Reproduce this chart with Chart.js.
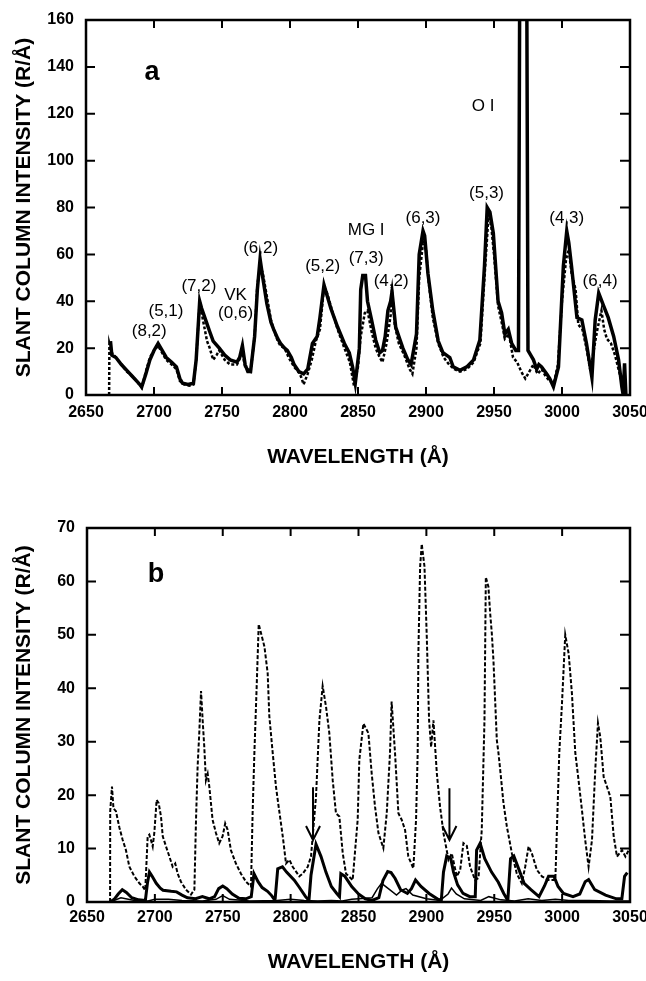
<!DOCTYPE html>
<html>
<head>
<meta charset="utf-8">
<script src="https://cdn.jsdelivr.net/npm/chart.js@4.4.1/dist/chart.umd.min.js"></script>
<style>
  html, body { margin: 0; padding: 0; background: #fff; }
  .panel { position: absolute; left: 0; width: 646px; }
  #wrapA { top: 0; height: 490px; }
  #wrapB { top: 490px; height: 491px; }
  canvas { display: block; }
</style>
</head>
<body>
<div class="panel" id="wrapA"><canvas id="chartA" width="646" height="490"></canvas></div>
<div class="panel" id="wrapB"><canvas id="chartB" width="646" height="491"></canvas></div>
<script>
// ---- panel a : observed (solid) and model (dotted) ----
const obsWave = [
  2668, 2669, 2672, 2676, 2680, 2684, 2688, 2691, 2694, 2697,
  2700, 2703, 2706, 2709, 2713, 2716.5, 2719, 2721, 2725, 2729,
  2731, 2733.6, 2735, 2738.6, 2741, 2743.5, 2748, 2752, 2756, 2761,
  2763, 2765, 2767, 2769, 2771, 2774, 2776, 2778, 2780, 2783,
  2786, 2788, 2791, 2793, 2796, 2798, 2801, 2803, 2806.5, 2810,
  2813, 2816.5, 2820, 2822, 2825, 2827, 2830, 2835, 2840, 2843.6,
  2846, 2848, 2851, 2852, 2853.5, 2855.5, 2857, 2860, 2863, 2866,
  2868, 2870, 2872, 2874, 2875, 2877.7, 2880, 2883, 2886.7, 2889,
  2893, 2895, 2897.8, 2899, 2901.4, 2905, 2909, 2912.5, 2915, 2917.5,
  2920, 2925, 2930, 2935, 2939.6, 2943, 2945, 2947, 2949.5, 2953,
  2955.6, 2958, 2960.5, 2963, 2966, 2968, 2971.5, 2975, 2977, 2979,
  2981.4, 2983, 2985, 2988.8, 2991, 2993.7, 2997.4, 3001, 3003.5, 3005,
  3007, 3011, 3014.6, 3018, 3022, 3024.4, 3027, 3030.6, 3034, 3038,
  3041.6, 3044, 3045, 3046, 3047
]
const obsInt = [
  23, 17, 16, 13, 10.5, 8, 5.5, 3.5, 9, 15,
  19, 22, 19, 16, 14, 12, 7, 5, 4.5, 5,
  15, 40, 37, 31, 27, 23, 20, 17, 15, 14,
  16, 21, 13, 10, 10, 25, 45, 58, 50, 39,
  31, 28, 24, 22, 20, 19, 16, 13, 10, 9,
  11, 22, 25, 33, 47, 43, 37, 29, 22, 18,
  12, 5, 20, 45, 51, 51, 40, 32, 23.5, 18,
  19, 25, 36, 40, 44, 29, 25, 20, 15, 13,
  26, 60, 70, 68, 52, 36, 23, 18, 17, 16,
  12, 10.5, 12, 15, 23.5, 55, 80, 78, 69, 40,
  35, 26, 28, 22, 19, 19, 620, 19, 17, 15,
  11, 13, 12, 9, 7, 3.5, 12, 55, 70, 65,
  55, 33, 32, 22, 7.5, 32, 43.5, 38, 33, 25,
  15, 3.5, 0, 13.5, 0
]
const modelWave = [
  2667, 2667.2, 2669, 2672, 2676, 2680, 2684, 2688, 2691, 2694,
  2697, 2700, 2703, 2706, 2709, 2713, 2716.5, 2719, 2722, 2726,
  2729, 2731, 2733.6, 2735, 2737, 2739, 2741, 2743.5, 2746, 2748,
  2752, 2756, 2761, 2765, 2767, 2771, 2774, 2776, 2778, 2780,
  2783, 2786, 2788, 2791, 2793, 2796, 2799, 2803, 2806, 2808,
  2810, 2813, 2816, 2819, 2822, 2825, 2827, 2830, 2835, 2840,
  2844, 2847, 2850, 2852, 2855, 2857, 2860, 2863, 2866, 2868,
  2871, 2874, 2875, 2877, 2880, 2884, 2888, 2890, 2893, 2895,
  2898, 2900, 2902, 2905, 2909, 2913, 2917, 2921, 2925, 2930,
  2935, 2940, 2943, 2946, 2948, 2950, 2953, 2956, 2958, 2961,
  2964, 2967, 2970, 2973, 2976, 2979, 2982, 2985, 2988, 2991,
  2994, 2997, 3000, 3003, 3005, 3007, 3010, 3012, 3015, 3018,
  3021, 3023, 3026, 3029, 3031, 3033, 3036, 3039, 3042, 3044,
  3046
]
const modelInt = [
  0, 22, 18, 16, 13, 10, 8, 5.5, 3, 10,
  16, 19, 21, 18, 15, 13, 11, 6, 4.5, 4,
  4.5, 15, 40, 35, 29, 23, 20, 15, 17, 19,
  15, 13, 13, 18, 12, 10, 25, 47, 55, 52,
  42, 32, 28, 23, 21, 20, 16, 12, 10, 8,
  4.5, 9, 15, 23, 28, 46, 44, 38, 28, 20,
  14, 4, 12, 25, 35, 36, 27, 20, 16, 14,
  22, 34, 45, 30, 22, 17, 11, 9, 20, 50,
  66, 62, 48, 33, 22, 16, 13, 11, 10, 11,
  14, 22, 50, 77, 72, 60, 38, 30, 24, 26,
  16, 14, 10, 7, 10, 13, 9, 11, 8, 6,
  5, 13, 40, 58, 62, 52, 45, 30, 28, 20,
  10, 18, 28, 36, 28, 24, 22, 17, 10, 5,
  3
]
const notesA = ['(8,2)', '(5,1)', '(7,2)', 'VK', '(0,6)', '(6,2)', '(5,2)', 'MG I', '(7,3)', '(4,2)', '(6,3)', '(5,3)', 'O I', '(4,3)', '(6,4)']
const notesAWave = [2696.5, 2708.8, 2733, 2760, 2760, 2778.4, 2824, 2856, 2856, 2874.4, 2897.8, 2944.5, 2942, 3003.5, 3028]
const notesAInt = [27, 35.5, 46.2, 42.7, 34.9, 62.6, 54.7, 70.4, 58.3, 48.3, 75.4, 86, 123, 75.4, 48.3]

// ---- panel b : total model (dashed) and band components (solid) ----
const totalWave = [
  2667, 2667.1, 2668.4, 2669.5, 2671.3, 2673.8, 2676.3, 2678.7, 2681.2, 2684.9,
  2688.6, 2691, 2692.9, 2694.7, 2695.9, 2697.1, 2698.4, 2699.6, 2701.3, 2702.8,
  2704.5, 2705.8, 2708.2, 2710.7, 2713.1, 2715, 2716.8, 2719.2, 2722.9, 2726.6,
  2729.1, 2730.3, 2731.5, 2732.7, 2734, 2735.2, 2736.4, 2737.6, 2738.9, 2740.1,
  2741.3, 2742.5, 2745, 2747.4, 2749.9, 2751.8, 2753.6, 2756, 2759.7, 2763.4,
  2767.1, 2770.8, 2772, 2773.3, 2775, 2776.5, 2778.2, 2780.7, 2783.1, 2784.3,
  2786.8, 2789.2, 2791.2, 2794.2, 2796.6, 2799.1, 2801.5, 2806.4, 2808.9, 2812.6,
  2815, 2818.7, 2821.2, 2823.6, 2826.1, 2828.5, 2831, 2833.4, 2835.9, 2838.4,
  2840.8, 2845.7, 2849.4, 2850.6, 2853.6, 2857.3, 2859.7, 2862.2, 2864.7, 2868.3,
  2870.8, 2873.2, 2874.4, 2876.9, 2879.4, 2881.8, 2884.3, 2886.7, 2890.4, 2892.4,
  2893.6, 2894.1, 2895.4, 2896.6, 2898.6, 2900.3, 2902, 2903.5, 2905.2, 2907.7,
  2910.1, 2912.6, 2916.3, 2918.7, 2922.4, 2924.9, 2927.3, 2929.8, 2932.2, 2935.9,
  2938.4, 2940.8, 2942.8, 2943.8, 2945.7, 2947, 2948.2, 2949.4, 2951.9, 2953.1,
  2954.4, 2956.8, 2959.3, 2963, 2966.6, 2970.3, 2972.8, 2975.3, 2977.7, 2981.4,
  2985.1, 2990, 2995, 2997.9, 2999.9, 3002.3, 3004.8, 3007.2, 3009.7, 3012.1,
  3014.6, 3017, 3019.5, 3022, 3024.4, 3026.4, 3028.1, 3030.6, 3033, 3035.5,
  3038, 3040.4, 3044.1, 3046.6, 3049, 3050
]
const totalInt = [
  0, 17, 21.6, 17.5, 17, 14, 11.6, 9.7, 6.6, 4.8,
  3.5, 2.9, 2.2, 12.3, 12.6, 11.6, 10.4, 13, 19.1, 18.5,
  16, 12.3, 10.4, 8.5, 6.6, 7.2, 5.3, 3.8, 2.3, 1.4,
  2.3, 15.4, 25.4, 31.6, 39.5, 34, 29, 22.8, 24, 21.6,
  18.5, 15.4, 12.9, 11, 12.3, 14.7, 13.5, 9.7, 7.2, 5.3,
  3.8, 2.9, 16.6, 27.9, 40.4, 52, 50.3, 47.8, 42.8, 34.8,
  27.9, 21.6, 17.8, 12.3, 7.2, 7.9, 6.6, 4.8, 5.3, 6.6,
  8.5, 19.7, 34, 40.4, 36.5, 31.6, 22.8, 16.6, 16, 9.1,
  5.3, 4.1, 15.4, 26.6, 33.4, 31.6, 24.1, 17.8, 12.9, 10.1,
  16.6, 27.9, 37.5, 27.9, 16.6, 15.4, 13.5, 8.5, 6.3, 15.4,
  27.9, 46.5, 62.8, 67, 62.8, 49.6, 34, 29, 34, 24.1,
  17.8, 12.9, 7.9, 9.1, 4.8, 6, 11, 10.5, 6.6, 4.1,
  4.5, 13.5, 34, 60.8, 59, 54, 50.3, 45.3, 30.3, 27.9,
  24.7, 18.5, 14.1, 9.1, 5.3, 3.5, 6.6, 10.4, 9.1, 6,
  4.8, 4.1, 4.1, 27.9, 37.2, 50, 46.5, 39.1, 27.9, 22.8,
  17.2, 11.6, 6.6, 11.6, 24.7, 33.5, 30.9, 23.4, 21.6, 19.7,
  12.3, 8.5, 9.7, 8.5, 9.7, 10
]
const bandWave = [
  2667, 2670, 2673, 2676, 2679, 2683, 2688, 2693, 2694.5, 2696,
  2698, 2701, 2704, 2706, 2712, 2716, 2720, 2724, 2730, 2735,
  2740, 2744, 2747, 2750, 2753, 2757, 2762, 2767, 2771, 2773,
  2776, 2779, 2783, 2786, 2788.5, 2790.5, 2794, 2797, 2802.7, 2806,
  2811, 2813.5, 2815, 2818.7, 2822.4, 2826, 2830, 2834, 2836, 2837,
  2840, 2845, 2850, 2855, 2860, 2865, 2868, 2871.5, 2874, 2877,
  2881, 2886, 2889, 2892, 2896, 2902, 2908, 2911, 2912.6, 2915,
  2918, 2920, 2923, 2927, 2932, 2936, 2937, 2939.6, 2943, 2948,
  2953, 2957, 2960, 2962, 2964.4, 2968, 2972, 2977, 2983, 2987,
  2990, 2994, 2997, 3001, 3008, 3013, 3017, 3019.5, 3024, 3032,
  3040, 3044, 3046, 3048
]
const bandInt = [
  0, 0.5, 1.5, 2.3, 1.8, 0.8, 0.4, 0.3, 3.5, 5.6,
  4.8, 3.5, 2.6, 2.2, 2, 1.9, 1.3, 0.8, 0.6, 1,
  0.6, 1, 2.5, 3, 2.5, 1.5, 0.7, 0.6, 1, 5.3,
  3.8, 2.7, 2, 1.2, 0.3, 6.2, 6.6, 5.6, 4.1, 2.9,
  1, 0.3, 5, 10.8, 8.5, 5.6, 2.9, 1.6, 1, 5.3,
  4.8, 2.9, 1.5, 0.6, 0.3, 0.8, 4, 5.7, 5.5, 4.4,
  2.3, 1.6, 2.5, 4.1, 2.9, 1.6, 0.6, 0.3, 5.6, 8.6,
  8.1, 5.6, 3.2, 1.6, 1, 1, 9.7, 11, 8.1, 5.6,
  3.7, 1.6, 0.3, 8.1, 8.6, 6.2, 3.5, 2.3, 1, 3,
  4.8, 4.8, 2.9, 1.6, 1, 1.5, 3.8, 4.2, 2.3, 1.3,
  0.6, 0.6, 4.8, 5.5
]
const minorWave = [
  2667, 2675, 2685, 2695, 2700, 2710, 2720, 2735, 2745, 2750,
  2755, 2770, 2790, 2800, 2810, 2820, 2830, 2838, 2845, 2860,
  2864, 2867, 2872, 2878, 2882, 2885, 2890, 2900, 2910, 2916,
  2918.5, 2922, 2928, 2940, 2946, 2955, 2965, 2975, 2985, 2995,
  3005, 3020, 3035, 3050
]
const minorInt = [
  0, 0.8, 0.3, 0.2, 0.5, 0.5, 0.3, 0.2, 0.5, 1.2,
  0.5, 0.2, 0.3, 0.5, 0.3, 0.2, 0.3, 0.2, 0.5, 0.8,
  2.5, 3.5, 2.5, 1.3, 2.2, 2.5, 1.3, 0.6, 0.3, 1.5,
  2.6, 1.5, 0.6, 0.3, 1, 0.4, 0.2, 0.6, 0.3, 0.5,
  0.3, 0.3, 0.2, 0.2
]
const arrowWave = [2816.5, 2917]
const arrowFrom = [21.5, 21.3]
const arrowTo = [11.6, 11.6]

const family = "'Liberation Sans', Arial, Helvetica, sans-serif"
const pts = (xs, ys) => xs.map((x, i) => ({x: x, y: ys[i]}))

// frame with inward ticks on all four sides
const framePlugin = {
  id: 'frame',
  afterDatasetsDraw(chart) {
    const {ctx, chartArea: a, scales: {x, y}} = chart
    ctx.save()
    ctx.strokeStyle = '#000'
    ctx.lineWidth = 2
    ctx.beginPath()
    x.ticks.forEach(t => {
      const px = x.getPixelForValue(t.value)
      if (px < a.left + 2 || px > a.right - 2) return
      ctx.moveTo(px, a.bottom); ctx.lineTo(px, a.bottom - 8)
      ctx.moveTo(px, a.top); ctx.lineTo(px, a.top + 8)
    })
    y.ticks.forEach(t => {
      const py = y.getPixelForValue(t.value)
      if (py < a.top + 2 || py > a.bottom - 2) return
      ctx.moveTo(a.left, py); ctx.lineTo(a.left + 9, py)
      ctx.moveTo(a.right, py); ctx.lineTo(a.right - 10, py)
    })
    ctx.stroke()
    ctx.lineWidth = 2.5
    ctx.strokeRect(a.left, a.top, a.right - a.left, a.bottom - a.top)
    ctx.restore()
  }
}

// text notes and arrows placed in data coordinates
const notesPlugin = {
  id: 'notes',
  afterDatasetsDraw(chart, args, opts) {
    const {ctx, scales: {x, y}} = chart
    ctx.save()
    ctx.fillStyle = '#000'
    ctx.textAlign = 'center'
    ctx.textBaseline = 'middle'
    ctx.font = 'bold 27px ' + family
    ctx.fillText(opts.letter, x.getPixelForValue(opts.letterAt[0]), y.getPixelForValue(opts.letterAt[1]))
    ctx.font = '17px ' + family
    opts.texts.forEach((t, i) => {
      ctx.fillText(t, x.getPixelForValue(opts.xs[i]), y.getPixelForValue(opts.ys[i]))
    })
    ctx.strokeStyle = '#000'
    ctx.lineWidth = 2
    opts.arrows.forEach((w, i) => {
      const px = x.getPixelForValue(w)
      const top = y.getPixelForValue(opts.arrowFrom[i])
      const tip = y.getPixelForValue(opts.arrowTo[i])
      ctx.beginPath()
      ctx.moveTo(px, top); ctx.lineTo(px, tip)
      ctx.moveTo(px - 7, tip - 14); ctx.lineTo(px, tip); ctx.lineTo(px + 7, tip - 14)
      ctx.stroke()
    })
    ctx.restore()
  }
}

function axes(ymax, ystep, yWidth, xHeight, xTickPad, xTitlePad) {
  return {
    x: {
      type: 'linear', min: 2650, max: 3050,
      grid: {display: false, drawTicks: false}, border: {display: false},
      ticks: {stepSize: 50, autoSkip: false, maxRotation: 0, padding: xTickPad, color: '#000',
              font: {family: family, size: 16, weight: 'bold'}, callback: v => String(v)},
      title: {display: true, text: 'WAVELENGTH (Å)', color: '#000',
              font: {family: family, size: 21, weight: 'bold'}, padding: {top: 0, bottom: xTitlePad}},
      afterFit: s => { s.height = xHeight; s.paddingLeft = 0; s.paddingRight = 0 }
    },
    y: {
      min: 0, max: ymax,
      grid: {display: false, drawTicks: false}, border: {display: false},
      ticks: {stepSize: ystep, padding: 12, color: '#000',
              font: {family: family, size: 16, weight: 'bold'}},
      title: {display: true, text: 'SLANT COLUMN INTENSITY (R/Å)', color: '#000',
              font: {family: family, size: 21, weight: 'bold'}, padding: {top: 12, bottom: 0}},
      afterFit: s => { s.width = yWidth; s.paddingTop = 0; s.paddingBottom = 0 }
    }
  }
}

const line = (data, width, dash) => ({
  data: data, borderColor: '#000', borderWidth: width, borderDash: dash,
  pointRadius: 0, tension: 0, fill: false
})

new Chart(document.getElementById('chartA'), {
  type: 'line',
  data: {
    datasets: [
      line(pts(obsWave, obsInt), 3.5, []),
      line(pts(modelWave, modelInt), 2.5, [3, 2])
    ]
  },
  options: {
    responsive: false,
    animation: false,
    layout: {padding: {left: 0, top: 20, right: 16, bottom: 0}},
    scales: axes(160, 20, 86, 95, 8, 20),
    plugins: {
      legend: {display: false},
      tooltip: {enabled: false},
      notes: {letter: 'a', letterAt: [2698.5, 137.4], texts: notesA, xs: notesAWave, ys: notesAInt,
              arrows: [], arrowFrom: [], arrowTo: []}
    }
  },
  plugins: [framePlugin, notesPlugin]
})

new Chart(document.getElementById('chartB'), {
  type: 'line',
  data: {
    datasets: [
      line(pts(bandWave, bandInt), 3, []),
      line(pts(minorWave, minorInt), 1.5, []),
      line(pts(totalWave, totalInt), 2, [4, 2])
    ]
  },
  options: {
    responsive: false,
    animation: false,
    layout: {padding: {left: 0, top: 38, right: 16, bottom: 0}},
    scales: axes(70, 10, 87, 79, 6, 6),
    plugins: {
      legend: {display: false},
      tooltip: {enabled: false},
      notes: {letter: 'b', letterAt: [2700.8, 61.2], texts: [], xs: [], ys: [],
              arrows: arrowWave, arrowFrom: arrowFrom, arrowTo: arrowTo}
    }
  },
  plugins: [framePlugin, notesPlugin]
})
</script>
</body>
</html>
